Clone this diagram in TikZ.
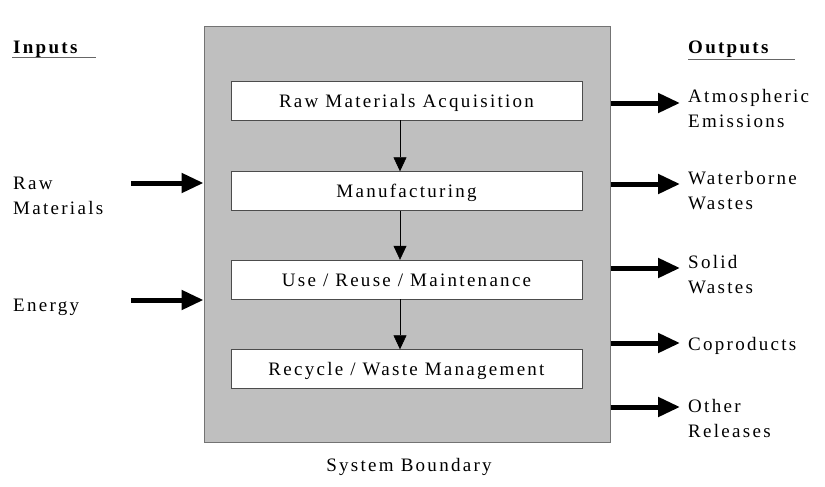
\documentclass[tikz,border=0pt]{standalone}
\usepackage{fontspec}
\setmainfont{Liberation Serif}[LetterSpace=12]
\usetikzlibrary{arrows.meta}

\tikzset{
    stage/.style={draw=black!70, fill=white, minimum width=351pt, minimum height=39pt, inner sep=0pt, text height=13pt, text depth=0pt},
    label/.style={anchor=west, align=left, inner sep=0pt},
    flow/.style={-{Triangle[length=14pt,width=13pt]}, line width=0.6pt},
    bigflow/.style={-{Triangle[length=22pt,width=19pt]}, line width=5pt},
}

\begin{document}
\begin{tikzpicture}[x=1pt, y=-1pt, font=\fontsize{19}{25}\selectfont]
    \useasboundingbox (0,0) rectangle (825,487);
    % system boundary
    \node[draw=black!55, fill=black!25, line width=1pt, minimum width=406pt, minimum height=415pt, inner sep=0pt] (sys) at (407,234.5) {};
    \node (sysname) at (409,467) {System Boundary};

    % life cycle stages
    \node[stage] (raw) at (406.5,100.5) {Raw Materials Acquisition};
    \node[stage] (manu) at (406.5,191) {Manufacturing};
    \node[stage] (use) at (406.5,279.5) {Use / Reuse / Maintenance};
    \node[stage] (recy) at (406.5,369) {Recycle / Waste Management};
    \draw[flow] (raw.south -| 400,0) -- (manu.north -| 400,0);
    \draw[flow] (manu.south -| 400,0) -- (use.north -| 400,0);
    \draw[flow] (use.south -| 400,0) -- (recy.north -| 400,0);

    % inputs
    \node[label, font=\fontsize{19}{25}\selectfont\bfseries] (inputs) at (13,49) {Inputs};
    \draw[black!60, line width=1pt] (12,58) -- (96,58);
    \node[label] (rawin) at (13,196) {Raw\\Materials};
    \node[label] (energy) at (13,307) {Energy};
    \coordinate (rawtail) at (131,183);
    \coordinate (entail) at (131,300);
    \draw[bigflow] (rawtail) -- (rawtail -| sys.west);
    \draw[bigflow] (entail) -- (entail -| sys.west);

    % outputs
    \node[label, font=\fontsize{19}{25}\selectfont\bfseries] (outputs) at (688,49) {Outputs};
    \draw[black!60, line width=1pt] (688,60) -- (795,60);
    \node[label] (air) at (688,109) {Atmospheric\\Emissions};
    \node[label] (water) at (688,191) {Waterborne\\Wastes};
    \node[label] (solid) at (688,275) {Solid\\Wastes};
    \node[label] (copro) at (688,346) {Coproducts};
    \node[label] (other) at (688,418) {Other\\Releases};
    \foreach \y/\n in {103/air, 184/water, 268/solid, 343/copro, 407/other}{
        \coordinate (\n head) at (680,\y);
        \draw[bigflow] (\n head -| sys.east) -- (\n head);
    }
\end{tikzpicture}
\end{document}
